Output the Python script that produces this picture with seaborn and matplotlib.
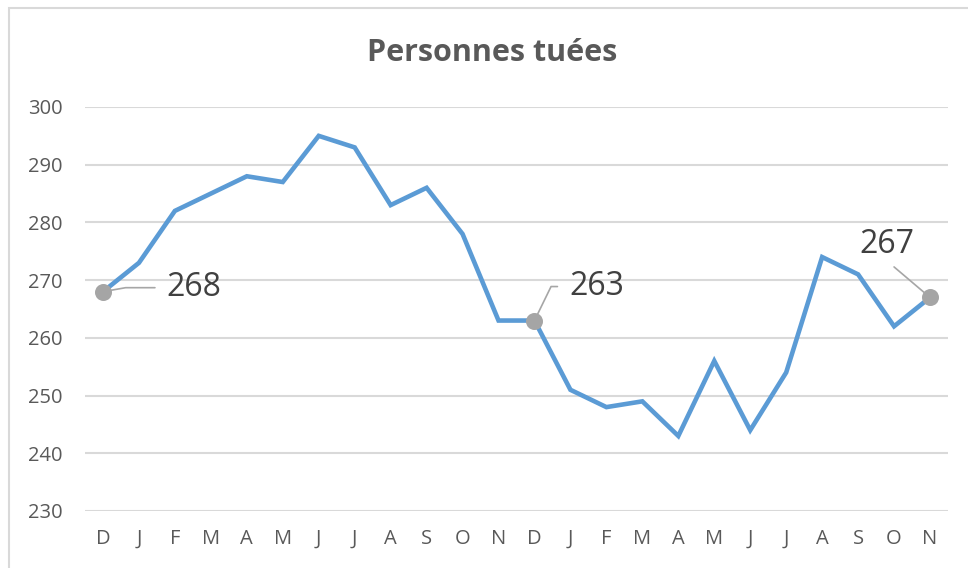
import numpy as np
import pandas as pd
import matplotlib
matplotlib.use('Agg')
import matplotlib.pyplot as plt
import seaborn as sns
from matplotlib.patches import Rectangle

# données
mois = ['D', 'J', 'F', 'M', 'A', 'M', 'J', 'J', 'A', 'S', 'O', 'N',
        'D', 'J', 'F', 'M', 'A', 'M', 'J', 'J', 'A', 'S', 'O', 'N']
tues = [268, 273, 282, 285, 288, 287, 295, 293, 283, 286, 278, 263,
        263, 251, 248, 249, 243, 256, 244, 254, 274, 271, 262, 267]
points_etiquetes = [0, 12, 23]
y_ticks = [230, 240, 250, 260, 270, 280, 290, 300]

sns.set_style('white')
plt.rcParams['font.family'] = ['Open Sans', 'DejaVu Sans']

df = pd.DataFrame({'idx': range(len(tues)), 'tues': tues})

fig = plt.figure(figsize=(9.68, 5.68), dpi=100)
ax = fig.add_axes([85 / 968, 57 / 568, 863 / 968, 404 / 568])

for y in y_ticks:
    ax.axhline(y, color='#D9D9D9', lw=1.5, zorder=0)

sns.lineplot(data=df, x='idx', y='tues', ax=ax, color='#5B9BD5', lw=3.3,
             solid_joinstyle='miter', zorder=2)

lab = df.iloc[points_etiquetes]
sns.scatterplot(data=lab, x='idx', y='tues', ax=ax, color='#A5A5A5', s=150,
                edgecolor='#A5A5A5', linewidth=0, zorder=3)

# étiquettes avec lignes de rappel
params = [
    ((91, 4), (0, 0.5), 'angle,angleA=0,angleB=10,rad=0', 6),
    ((62, 34), (0, 0.5), 'angle,angleA=0,angleB=64,rad=0', 6),
    ((-43, 53), (0.5, 0), 'arc3,rad=0', 3),
]
for i, (off, rp, cs, sa) in zip(points_etiquetes, params):
    ax.annotate(str(tues[i]), xy=(i, tues[i]), xytext=off,
                textcoords='offset pixels', ha='center', va='center',
                fontsize=23, color='#404040',
                arrowprops=dict(arrowstyle='-', color='#A6A6A6', lw=1.2,
                                relpos=rp, connectionstyle=cs,
                                shrinkA=sa, shrinkB=5))

ax.set_xlim(-0.5, len(tues) - 0.5)
ax.set_ylim(230, 300)
ax.set_xticks(range(len(mois)))
ax.set_xticklabels(mois)
ax.set_yticks(y_ticks)
ax.tick_params(axis='both', length=0, labelsize=14.5, colors='#595959')
ax.tick_params(axis='x', pad=13)
ax.tick_params(axis='y', pad=16)
ax.set_xlabel('')
ax.set_ylabel('')
for s in ax.spines.values():
    s.set_visible(False)

fig.text(492 / 968, 1 - 53 / 568, 'Personnes tuées', ha='center', va='center',
         fontsize=22, fontweight='bold', color='#595959')

fig.patches.append(Rectangle((9 / 968, -0.1), 1.0, 1 - 8 / 568 + 0.1,
                             transform=fig.transFigure, fill=False,
                             edgecolor='#D9D9D9', lw=1.5))

fig.savefig('out.png', dpi=100)
